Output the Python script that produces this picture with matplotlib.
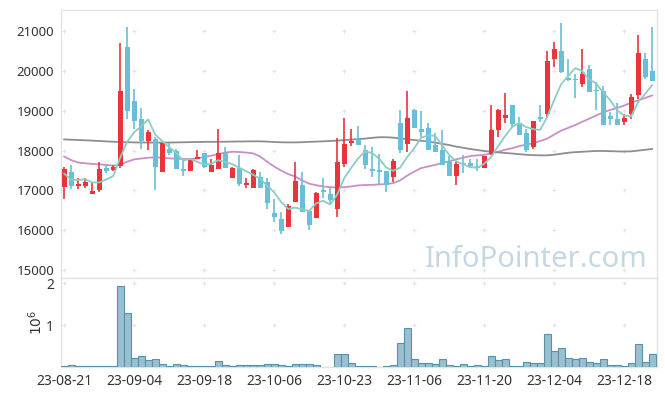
import numpy as np
import pandas as pd
import matplotlib
matplotlib.use("Agg")
import matplotlib.pyplot as plt

plt.rcParams['font.family'] = ['Noto Sans', 'DejaVu Sans']

# ---------------------------------------------------------------
# data
# ---------------------------------------------------------------
opens = [17093, 17468, 17110, 17118, 16918, 17010, 17568, 17518, 17618, 20608,
         19234, 18784, 18234, 18284, 17468, 18034, 17985, 17535, 17493, 17785,
         17943, 17468, 17535, 17943, 17318, 17568, 17135, 17068, 17326, 17201,
         16435, 16285, 16077, 16718, 17135, 16485, 16318, 17010, 16902, 16527,
         17668, 18201, 18284, 18026, 17526, 17510, 17485, 17343, 18701, 18176,
         19009, 18534, 18576, 18135, 18009, 17718, 17368, 17676, 17676, 17618,
         17568, 17926, 18509, 18818, 19151, 18693, 18451, 18093, 18834, 18926,
         20300, 20509, 19817, 19801, 19676, 20050, 19509, 19484, 18859, 18801,
         18718, 18926, 19384, 20300, 20009]
highs = [17593, 17635, 17300, 17300, 17177, 17701, 17635, 17635, 20700, 21100,
         19534, 19067, 18526, 18343, 18193, 18193, 18051, 17785, 17785, 18026,
         17943, 17785, 18551, 18093, 17593, 17901, 17302, 17535, 17468, 17302,
         16785, 16468, 16660, 17701, 17468, 16485, 16968, 17302, 17052, 18318,
         18818, 18534, 18618, 18135, 18093, 17926, 17485, 17785, 19009, 19484,
         19051, 18984, 18701, 18451, 18509, 17868, 17718, 17885, 17785, 17776,
         17868, 19134, 19034, 19451, 19151, 18843, 18551, 18734, 19151, 20509,
         20717, 21200, 20300, 19926, 20550, 20150, 19734, 19617, 18968, 19201,
         18926, 19426, 20900, 20450, 21092]
lows = [16785, 17035, 17027, 17068, 16918, 16952, 17427, 17485, 17568, 18801,
        18551, 18051, 18026, 17010, 17468, 17885, 17535, 17368, 17493, 17785,
        17551, 17468, 17535, 17568, 17318, 17118, 17052, 17068, 17068, 16535,
        16202, 15910, 16077, 16718, 16468, 16010, 16318, 16818, 16677, 16344,
        17593, 18110, 18151, 17535, 17343, 17152, 16968, 17218, 17951, 17968,
        18568, 18343, 18026, 17968, 17635, 17368, 17135, 17427, 17551, 17485,
        17568, 17885, 18343, 18701, 18593, 18384, 17968, 18034, 18718, 18818,
        20092, 19951, 19759, 19317, 19592, 19467, 19009, 18651, 18651, 18651,
        18634, 18801, 19301, 19801, 19751]
closes = [17535, 17118, 17160, 17210, 16977, 17535, 17493, 17576, 19501, 18992,
          18734, 18234, 18459, 17593, 18193, 17943, 17535, 17493, 17785, 17835,
          17593, 17635, 17943, 17568, 17568, 17152, 17177, 17501, 17068, 16677,
          16343, 15969, 16618, 17235, 16468, 16119, 16927, 16952, 16760, 17701,
          18176, 18234, 18151, 17635, 17493, 17468, 17135, 17735, 18009, 18826,
          18568, 18468, 18026, 17968, 17635, 17368, 17660, 17651, 17610, 17551,
          17868, 18509, 19009, 18884, 18676, 18384, 18009, 18734, 18793, 20259,
          20550, 19984, 19776, 19776, 19926, 19467, 19484, 18651, 18801, 18651,
          18826, 19342, 20450, 19842, 19751]
volumes = [0.016, 0.056, 0.016, 0.016, 0.03, 0.03, 0.016, 0.016, 1.94, 1.28,
           0.22, 0.27, 0.16, 0.20, 0.08, 0.03, 0.08, 0.056, 0.03, 0.03,
           0.03, 0.03, 0.15, 0.056, 0.03, 0.056, 0.056, 0.056, 0.056, 0.08,
           0.08, 0.056, 0.03, 0.08, 0.08, 0.08, 0.056, 0.01, 0.01, 0.30,
           0.32, 0.10, 0.03, 0.03, 0.03, 0.01, 0.03, 0.056, 0.58, 0.92,
           0.18, 0.10, 0.10, 0.08, 0.18, 0.056, 0.03, 0.08, 0.03, 0.056,
           0.03, 0.27, 0.16, 0.20, 0.03, 0.03, 0.13, 0.10, 0.10, 0.78,
           0.39, 0.46, 0.22, 0.18, 0.22, 0.13, 0.10, 0.18, 0.056, 0.056,
           0.03, 0.10, 0.54, 0.13, 0.32]  # millions of shares

# first 4 points of the 5 day average come from days before the window
ma5_head = [17420, 17270, 17260, 17280]
ma20 = [17850, 17760, 17700, 17680, 17665, 17655, 17640, 17620, 17640, 17720,
        17780, 17800, 17820, 17830, 17820, 17805, 17795, 17790, 17790, 17800,
        17840, 17870, 17910, 17950, 17970, 17965, 17950, 17930, 17850, 17720,
        17600, 17500, 17410, 17350, 17250, 17170, 17130, 17100, 17080, 17075,
        17080, 17100, 17125, 17135, 17140, 17150, 17160, 17180, 17250, 17370,
        17470, 17560, 17600, 17640, 17690, 17730, 17780, 17820, 17860, 17880,
        17890, 17930, 17970, 18020, 18060, 18110, 18150, 18180, 18240, 18300,
        18400, 18500, 18570, 18640, 18720, 18800, 18880, 18960, 19020, 19070,
        19130, 19200, 19260, 19320, 19385]
ma120 = [18280, 18272, 18265, 18258, 18250, 18240, 18230, 18222, 18215, 18210,
         18205, 18203, 18202, 18200, 18200, 18202, 18205, 18208, 18212, 18215,
         18218, 18220, 18220, 18222, 18225, 18228, 18230, 18232, 18232, 18225,
         18215, 18208, 18205, 18205, 18210, 18218, 18225, 18232, 18240, 18250,
         18262, 18275, 18290, 18300, 18320, 18335, 18335, 18325, 18305, 18285,
         18265, 18245, 18225, 18200, 18170, 18140, 18100, 18070, 18040, 18015,
         17990, 17970, 17955, 17940, 17925, 17910, 17895, 17885, 17880, 17880,
         17895, 17920, 17945, 17960, 17970, 17980, 17990, 17990, 17985, 17980,
         17975, 17980, 18000, 18020, 18040]

tick_pos = [0, 10, 20, 30, 40, 50, 60, 70, 80]
tick_labels = ['23-08-21', '23-09-04', '23-09-18', '23-10-06', '23-10-23',
               '23-11-06', '23-11-20', '23-12-04', '23-12-18']

# ---------------------------------------------------------------
df = pd.DataFrame({'open': opens, 'high': highs, 'low': lows, 'close': closes,
                   'vol': volumes})
x = np.arange(len(df))
ma5 = df['close'].rolling(5).mean().values
ma5[:4] = ma5_head

RED = '#e9343b'
BLUE = '#69bfd8'
GRIDC = '#e4e4e4'
SPINE = '#e3e3e3'
TXT = '#333333'

fig = plt.figure(figsize=(6.65, 3.96), dpi=100)
ax1 = fig.add_axes([61/665, 1-278/396, 596/665, 268/396])
ax2 = fig.add_axes([61/665, 1-367/396, 596/665, 89/396], sharex=ax1)

# price panel
up = df['close'] >= df['open']
colors = np.where(up, RED, BLUE)
ax1.vlines(x, df['low'], df['high'], colors=colors, linewidth=1.2, zorder=3)
body_bot = np.minimum(df['open'], df['close'])
body_h = np.maximum(np.abs(df['close'] - df['open']), 25)
ax1.bar(x, body_h, bottom=body_bot, width=0.72, color=colors, linewidth=0, zorder=4)

ax1.plot(x, ma5, color='#8ccdc2', linewidth=1.3, zorder=5)
ax1.plot(x, ma20, color='#c98fc6', linewidth=1.3, zorder=2)
ax1.plot(x, ma120, color='#8e8e8e', linewidth=1.3, zorder=2)

yt = [15000, 16000, 17000, 18000, 19000, 20000, 21000]
ax1.set_ylim(14800, 21530)
ax1.set_yticks(yt)
ax1.set_yticklabels([str(v) for v in yt])
gx, gy = np.meshgrid(tick_pos, yt)
ax1.scatter(gx.ravel(), gy.ravel(), marker='+', s=12, color=GRIDC, linewidths=0.8, zorder=1)

ax1.text(648/665, 1-267/396, 'InfoPointer.com', transform=fig.transFigure,
         ha='right', va='baseline', fontsize=21, color='#c4d8e3', zorder=0)

# volume panel
ax2.bar(x, df['vol'] * 1e6, width=1.0, color='#98c0d0', edgecolor='#5b90a9',
        linewidth=0.8, zorder=3)
ax2.set_ylim(0, 2.12e6)
ax2.set_yticks([1e6, 2e6])
ax2.set_yticklabels(['1', '2'])
ax2.set_ylabel('$10^6$', color=TXT, fontsize=10, labelpad=0)
gx2, gy2 = np.meshgrid(tick_pos, [1e6, 2e6])
ax2.scatter(gx2.ravel(), gy2.ravel(), marker='+', s=12, color=GRIDC, linewidths=0.8, zorder=1)

ax2.set_xlim(-0.45, 84.7)
ax2.set_xticks(tick_pos)
ax2.set_xticklabels(tick_labels)

for ax in (ax1, ax2):
    for s in ax.spines.values():
        s.set_color(SPINE)
        s.set_linewidth(1.0)
    ax.tick_params(length=0, labelsize=10, colors=TXT, pad=5)
ax1.tick_params(axis='y', labelsize=9.5)
ax1.tick_params(axis='x', labelbottom=False)

fig.savefig('out.png', dpi=100)
